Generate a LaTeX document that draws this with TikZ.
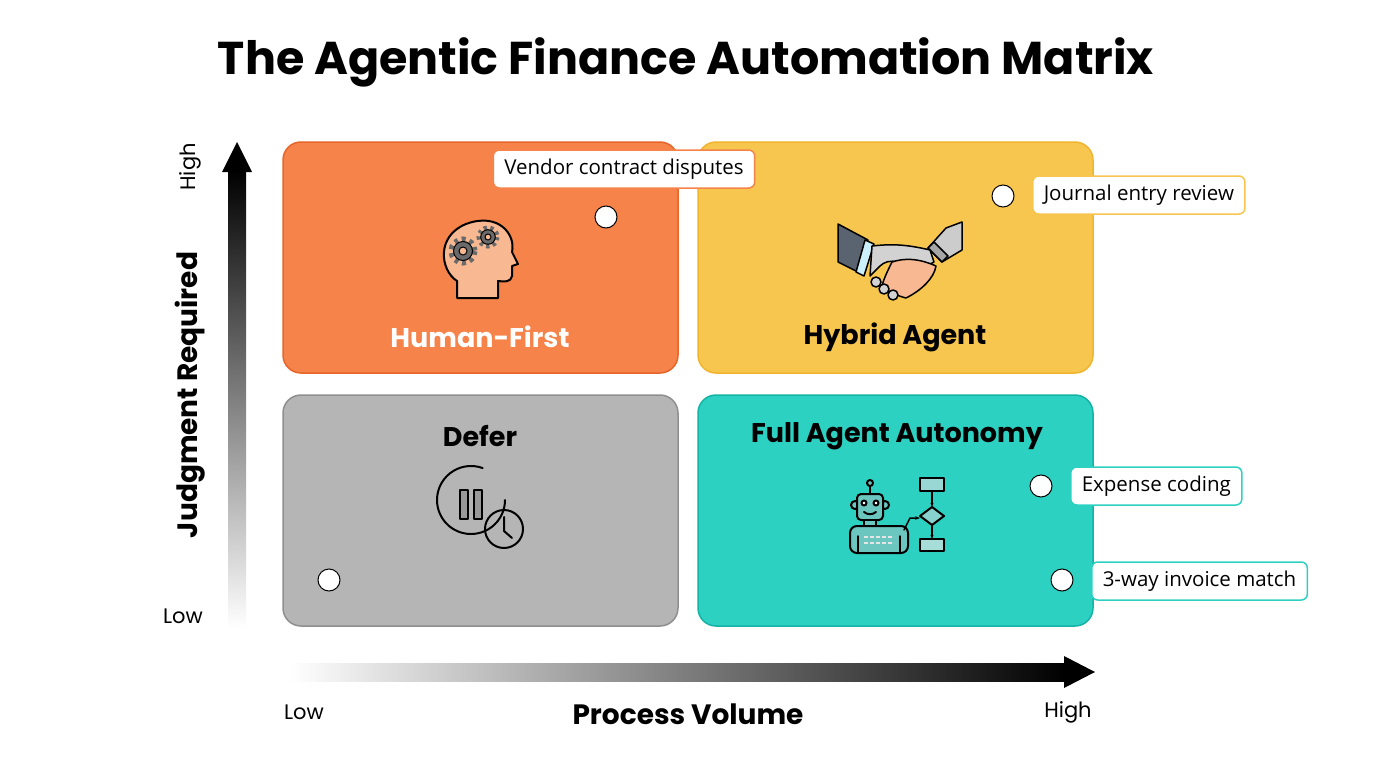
\documentclass[tikz,border=0pt]{standalone}
\usepackage{fontspec}
\setmainfont{Poppins}
\newfontfamily\lab{Open Sans}
\usetikzlibrary{shapes.geometric,arrows.meta}
\definecolor{qor}{HTML}{F5834A}\definecolor{qorb}{HTML}{E8652A}
\definecolor{qye}{HTML}{F7C64F}\definecolor{qyeb}{HTML}{F0B42E}
\definecolor{qgr}{HTML}{B5B5B5}\definecolor{qgrb}{HTML}{8F8F8F}
\definecolor{qte}{HTML}{2DD1C1}\definecolor{qteb}{HTML}{14B3A4}
\definecolor{skin}{HTML}{F8B891}\definecolor{gearc}{HTML}{6A6A6A}
\definecolor{robo}{HTML}{6CC6C0}\definecolor{suit}{HTML}{5A6470}
\begin{document}
\begin{tikzpicture}[x=1pt,y=-1pt,
  quad/.style={draw,line width=1.5pt,rounded corners=18pt},
  qlab/.style={font=\fontsize{27}{30}\selectfont\bfseries},
  ax/.style={font=\fontsize{21}{24}\selectfont},
  axt/.style={font=\fontsize{28}{32}\selectfont\bfseries},
  dot/.style={circle,draw=black,fill=white,line width=1pt,minimum size=22pt,inner sep=0pt},
  tag/.style={draw,fill=white,rounded corners=6pt,line width=1.5pt,font=\lab\fontsize{20.5}{23}\selectfont,inner xsep=11pt,minimum height=38pt},
  ic/.style={draw=black,line width=2pt,line join=round,line cap=round}]
\useasboundingbox (0,0) rectangle (1376,768);
\fill[white] (0,0) rectangle (1376,768);
\node[font=\fontsize{46}{50}\selectfont\bfseries] (title) at (686,62) {The Agentic Finance Automation Matrix};
% quadrants
\draw[quad,fill=qor,draw=qorb] (283,142) rectangle (678,373);
\draw[quad,fill=qye,draw=qyeb] (698,142) rectangle (1093,373);
\draw[quad,fill=qgr,draw=qgrb] (283,395) rectangle (678,626);
\draw[quad,fill=qte,draw=qteb] (698,395) rectangle (1093,626);
\node[qlab,white] (hf) at (480,337) {Human-First};
\node[qlab] (ha) at (895,337) {Hybrid Agent};
\node[qlab] (df) at (480,436) {Defer};
\node[qlab] (fa) at (897,436) {Full Agent Autonomy};
% axes
\shade[bottom color=white,top color=black] (228,628) rectangle (246,170);
\fill (222,172) -- (252,172) -- (237,142) -- cycle;
\shade[left color=white,right color=black] (290,663) rectangle (1066,681);
\fill (1064,656) -- (1064,688) -- (1095,672) -- cycle;
\node[axt,rotate=90] (jr) at (190,395) {Judgment Required};
\node[axt] (pv) at (688,714) {Process Volume};
\node[ax,rotate=90] (yh) at (190,167) {High};
\node[ax] (yl) at (183,616) {Low};
\node[ax] (xl) at (304,712) {Low};
\node[ax] (xh) at (1068,712) {High};
% head icon
\draw[ic,fill=skin] (457,298) -- (457,281) .. controls (440,270) and (436,236) .. (466,224) .. controls (498,212) and (516,234) .. (512,252) -- (518,264) -- (512,266) -- (512,276) .. controls (511,282) and (505,282) .. (498,281) -- (498,298) -- cycle;
\draw[gearc,line width=7pt,dash pattern=on 3.6pt off 3.6pt] (463,251) circle (11);
\draw[black,line width=1pt,fill=gearc] (463,251) circle (9.5);
\draw[black,line width=1pt,fill=skin] (463,251) circle (4);
\draw[gearc,line width=6pt,dash pattern=on 3pt off 3pt] (488,237) circle (8.5);
\draw[black,line width=1pt,fill=gearc] (488,237) circle (7.3);
\draw[black,line width=1pt,fill=skin] (488,237) circle (3);
% handshake icon
\draw[ic,line width=1.5pt,fill=suit] (838,224) -- (868,240) -- (858,272) -- (838,262) -- cycle;
\draw[ic,line width=1.5pt,fill=white!80!cyan] (865,240) -- (874,244) -- (864,276) -- (856,272) -- cycle;
\draw[ic,line width=1.5pt,fill=gray!40] (962,222) -- (946,228) -- (928,248) -- (942,262) -- (962,250) -- cycle;
\draw[ic,line width=1.5pt,fill=gray!70] (928,248) -- (934,242) -- (948,256) -- (942,262) -- cycle;
\draw[ic,line width=1.5pt,fill=gray!35] (872,246) .. controls (890,244) and (905,244) .. (930,250) -- (934,262) .. controls (920,270) and (906,268) .. (898,262) .. controls (890,260) and (884,262) .. (880,266) -- (870,276) -- cycle;
\draw[ic,line width=1.5pt,fill=skin] (892,262) .. controls (904,258) and (918,258) .. (936,266) .. controls (934,278) and (922,290) .. (906,298) .. controls (898,296) and (888,292) .. (882,286) .. controls (884,278) and (888,270) .. (892,262) -- cycle;
\foreach \p in {(876,282),(884,289),(893,295)} \draw[ic,line width=1.5pt,fill=gray!35] \p circle (5);
% pause clock icon
\draw[ic] (505,500) arc (0:290:34 and 34);
\draw[ic,fill=gray!80] (460,490) rectangle (468,519);
\draw[ic,fill=gray!80] (474,490) rectangle (482,519);
\draw[ic] (504,529) circle (19);
\draw[ic] (504,517) -- (504,531) -- (512,538);
% robot icon
\draw[ic] (870,494) -- (870,486); \draw[ic,fill=robo] (870,483) circle (3);
\draw[ic,fill=robo] (855,505) circle (4); \draw[ic,fill=robo] (885,505) circle (4);
\draw[ic,fill=robo,rounded corners=4pt] (857,494) rectangle (883,520);
\draw[ic,fill=white] (864,503) circle (2.5); \draw[ic,fill=white] (876,503) circle (2.5);
\draw[ic] (864,512) .. controls (868,515) and (872,515) .. (876,512);
\draw[ic,fill=robo] (864,520) rectangle (876,526);
\draw[ic,fill=robo,rounded corners=7pt] (850,553) -- (850,526) -- (908,526) -- (908,553) -- cycle;
\draw[ic,line width=1.5pt] (858,553) -- (858,536); \draw[ic,line width=1.5pt] (900,553) -- (900,536);
\draw[line width=1.5pt,gray!20,dash pattern=on 4pt off 2pt] (864,537) -- (894,537); \draw[line width=1.5pt,gray!20,dash pattern=on 4pt off 2pt] (864,543) -- (894,543);
\draw[ic,line width=1.5pt,-{Stealth[length=5pt]}] (904,530) -- (910,518) -- (920,518);
\draw[ic,fill=robo!70] (920,478) rectangle (944,491);
\draw[ic,fill=robo!80] (932,507) -- (944,516) -- (932,525) -- (920,516) -- cycle;
\draw[ic,fill=robo!60] (920,539) rectangle (944,551);
\draw[ic,line width=1.5pt,-{Stealth[length=4pt]}] (932,491) -- (932,507);
\draw[ic,line width=1.5pt,-{Stealth[length=4pt]}] (932,525) -- (932,539);
% dots and tags
\node[dot] (d1) at (606,217) {};
\node[tag,draw=qor] (t1) at (624,169) {Vendor contract disputes};
\node[dot] (d2) at (1003,196) {};
\node[tag,draw=qye,anchor=west] (t2) at (1032,195) {Journal entry review};
\node[dot] (d3) at (1041,486) {};
\node[tag,draw=qte,anchor=west] (t3) at (1070,486) {Expense coding};
\node[dot] (d4) at (1062,580) {};
\node[tag,draw=qte,anchor=west] (t4) at (1091,581) {3-way invoice match};
\node[dot] (d5) at (329,580) {};
\end{tikzpicture}
\end{document}
